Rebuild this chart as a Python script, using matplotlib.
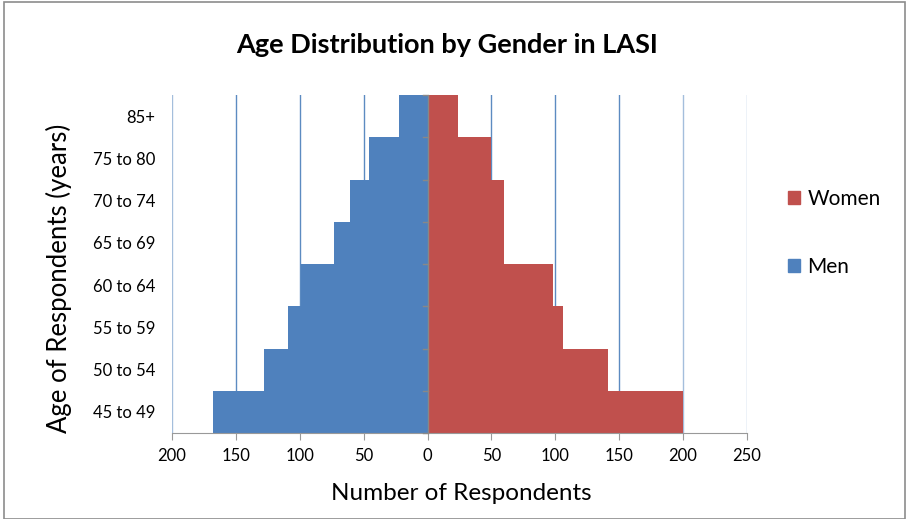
import matplotlib.pyplot as plt
import matplotlib.patches as mpatches
import numpy as np

plt.rcParams['font.family'] = ['Lato', 'DejaVu Sans']

ages = ['45 to 49', '50 to 54', '55 to 59', '60 to 64', '65 to 69', '70 to 74', '75 to 80', '85+']
men = [168, 128, 109, 99, 73, 61, 46, 22]
women = [200, 141, 106, 98, 60, 60, 50, 24]

c_men = '#4F81BD'
c_women = '#C0504D'

fig = plt.figure(figsize=(9.07, 5.19), dpi=100)
ax = fig.add_axes([172/907, 1-433/519, (747-172)/907, (433-95)/519])

y = np.arange(len(ages))
ax.barh(y, [-m for m in men], height=1.0, color=c_men, zorder=2)
ax.barh(y, women, height=1.0, color=c_women, zorder=2)

ax.set_xlim(-200, 250)
ax.set_ylim(-0.5, len(ages)-0.5)

xt = np.arange(-200, 251, 50)
ax.set_xticks(xt)
ax.set_xticklabels([str(abs(v)) for v in xt], fontsize=12)
for v in xt:
    if v == 0:
        continue
    ax.axvline(v, color='#4A7EBB', lw=1.0, zorder=1, alpha=0.5 if abs(v) >= 200 else 0.9)

ax.set_yticks(y)
ax.set_yticklabels(ages, fontsize=12)
ax.tick_params(axis='y', length=0, pad=12)
ax.tick_params(axis='x', length=5, color='#999999', pad=6)

# centre axis with category separators
ax.axvline(0, color='#888888', lw=1.0, zorder=3)
for b in np.arange(-0.5, len(ages), 1.0):
    ax.plot([-3.5, 0], [b, b], color='#888888', lw=1.0, zorder=3, clip_on=False)

for s in ['top', 'right', 'left']:
    ax.spines[s].set_visible(False)
ax.spines['bottom'].set_color('#999999')

ax.set_xlabel('Number of Respondents', fontsize=17.5)
ax.xaxis.set_label_coords(0.5 + (461-459.5)/575, (433-494)/338)
ax.set_ylabel('Age of Respondents (years)', fontsize=18.5)
ax.yaxis.set_label_coords((59-172)/575, (433-278)/338)
ax.xaxis.label.set_va('center')
ax.yaxis.label.set_va('center')

fig.text(0.493, 0.913, 'Age Distribution by Gender in LASI', fontsize=19.5, fontweight='bold',
         ha='center', va='center')

hw = mpatches.Patch(color=c_women, label='Women')
hm = mpatches.Patch(color=c_men, label='Men')
fig.legend(handles=[hw, hm], loc='center left', bbox_to_anchor=(769/907, 1-233/519),
           frameon=False, fontsize=15, labelspacing=2.3, handlelength=0.6, handleheight=0.6,
           handletextpad=0.35)

fig.add_artist(mpatches.Rectangle((4/907, 0), 1-6/907, 1-2/519, transform=fig.transFigure,
                                  fill=False, edgecolor='#8c8c8c', lw=1.2))

fig.savefig('out.png', dpi=100)
